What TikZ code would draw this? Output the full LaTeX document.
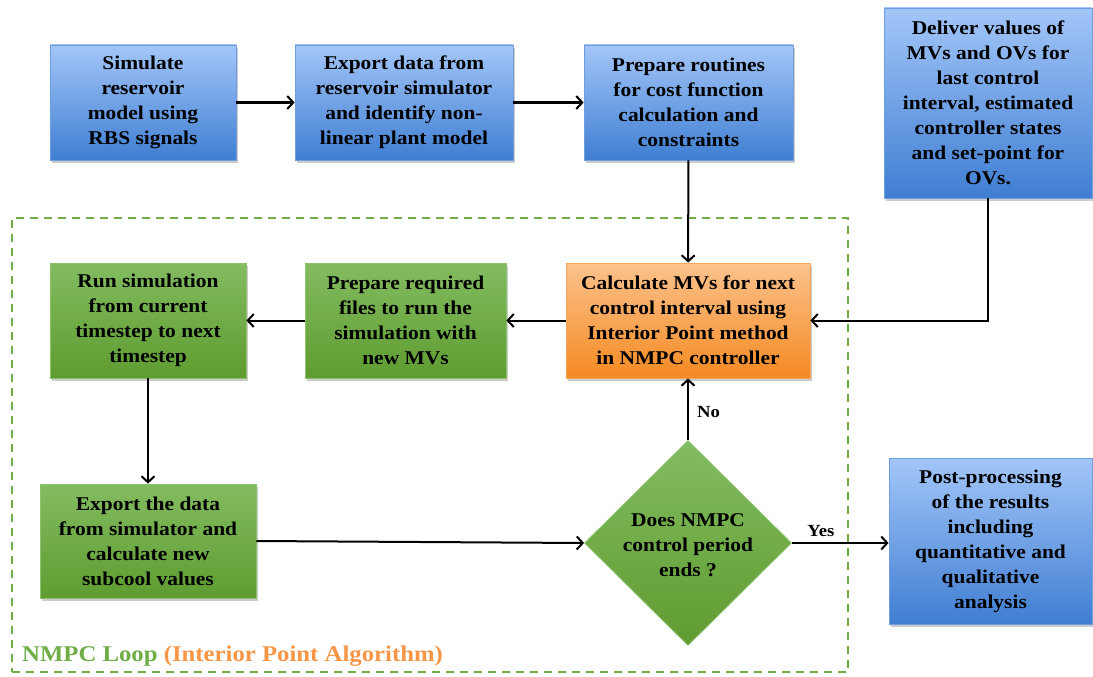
\documentclass[tikz,border=0pt]{standalone}
\usepackage{fontspec}
\setmainfont{Liberation Serif}[FakeStretch=1.1]
\usetikzlibrary{arrows.meta,shapes.geometric,shadows}
\definecolor{bluetop}{HTML}{A3C6F8}
\definecolor{bluebot}{HTML}{3F7ED2}
\definecolor{blueedge}{HTML}{6E9EE0}
\definecolor{greentop}{HTML}{83BC60}
\definecolor{greenbot}{HTML}{5E9C30}
\definecolor{greenedge}{HTML}{8CC26B}
\definecolor{orangetop}{HTML}{FCC28C}
\definecolor{orangebot}{HTML}{F48A22}
\definecolor{orangeedge}{HTML}{F7A55C}
\definecolor{loopgreen}{HTML}{70AD47}
\definecolor{looporange}{HTML}{F79646}
\begin{document}
\begin{tikzpicture}[x=1pt,y=-1pt,
  every node/.style={font=\fontsize{19.5}{25}\selectfont\bfseries, align=center, inner sep=0pt},
  card/.style={rectangle, line width=0.8pt,
    drop shadow={shadow xshift=2pt, shadow yshift=-3pt, fill=black!45, opacity=0.45}},
  bluecard/.style={card, draw=blueedge, top color=bluetop, bottom color=bluebot},
  greencard/.style={card, draw=greenedge, top color=greentop, bottom color=greenbot},
  orangecard/.style={card, draw=orangeedge, top color=orangetop, bottom color=orangebot},
  flow/.style={line width=2pt, -{Straight Barb[length=6pt,width=13pt,line width=2pt]}},
  lbl/.style={font=\fontsize{17}{20}\selectfont\bfseries}]
\useasboundingbox (0,0) rectangle (1093,677);
\fill[white] (0,0) rectangle (1093,677);

% loop frame
\node[draw=loopgreen, line width=2pt, dash pattern=on 8pt off 6pt,
  minimum width=836pt, minimum height=454pt] (loop) at (430,445) {};
\node[anchor=base west, font=\fontsize{22.5}{26}\selectfont\bfseries] (looplabel) at (22,661)
  {\textcolor{loopgreen}{NMPC Loop} \textcolor{looporange}{(Interior Point Algorithm)}};

% top row
\node[bluecard, minimum width=186pt, minimum height=115pt] (sim) at (143,102.5)
  {Simulate\\reservoir\\model using\\RBS signals};
\node[bluecard, minimum width=218pt, minimum height=115pt] (exp) at (404,102.5)
  {Export data from\\reservoir simulator\\and identify non-\\linear plant model};
\node[bluecard, minimum width=209pt, minimum height=115pt] (prep) at (688.5,102.5)
  {Prepare routines\\for cost function\\calculation and\\constraints};
\node[bluecard, minimum width=208pt, minimum height=190pt] (deliver) at (988,103)
  {Deliver values of\\MVs and OVs for\\last control\\interval, estimated\\controller states\\and set-point for\\OVs.};

% loop body
\node[orangecard, minimum width=244pt, minimum height=115pt] (calc) at (688,320.5)
  {Calculate MVs for next\\control interval using\\Interior Point method\\in NMPC controller};
\node[greencard, minimum width=201pt, minimum height=115pt] (files) at (405.5,320.5)
  {Prepare required\\files to run the\\simulation with\\new MVs};
\node[greencard, minimum width=196pt, minimum height=115pt] (run) at (148,320.5)
  {Run simulation\\from current\\timestep to next\\timestep};
\node[greencard, minimum width=216pt, minimum height=114pt] (export) at (148,541)
  {Export the data\\from simulator and\\calculate new\\subcool values};
\node[diamond, draw=greenedge, line width=0.8pt, top color=greentop, bottom color=greenbot,
  minimum width=207pt, minimum height=205pt, inner sep=0pt] (ends) at (688,543) {};
\node (endstext) at (688,545) {Does NMPC\\control period\\ends ?};

% result
\node[bluecard, minimum width=203pt, minimum height=166pt] (post) at (990.5,541)
  {Post-processing\\of the results\\including\\quantitative and\\qualitative\\analysis};

% connectors
\draw[flow] (sim) -- (exp);
\draw[flow] (exp) -- (prep);
\draw[flow] (prep) -- (calc);
\draw[flow] (deliver.south) |- (calc.east);
\draw[flow] (calc) -- (files);
\draw[flow] (files) -- (run);
\draw[flow] (run) -- (export);
\draw[flow] (export.east) -- (ends.west);
\draw[flow] (ends.north) -- node[lbl, right=8pt, pos=0.45] (no) {No} (calc.south);
\draw[flow] (ends.east) -- node[lbl, above=5pt, pos=0.3] (yes) {Yes} (post.west |- ends.east);
\end{tikzpicture}
\end{document}
